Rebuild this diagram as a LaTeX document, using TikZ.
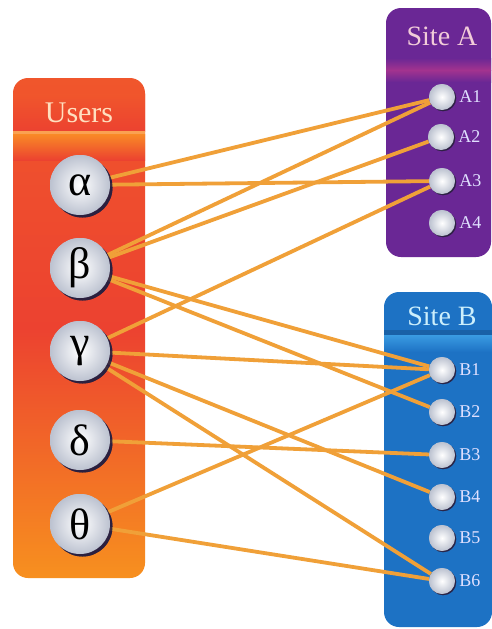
\documentclass[tikz,border=0pt]{standalone}
\usepackage{fontspec}
\setmainfont{Liberation Serif}
\usetikzlibrary{shadows}
\definecolor{usertop}{HTML}{F0562C}
\definecolor{usermid}{HTML}{EC4230}
\definecolor{userbot}{HTML}{F7901F}
\definecolor{userband}{HTML}{F98A26}
\definecolor{purp}{HTML}{6A2795}
\definecolor{purpband}{HTML}{A3338F}
\definecolor{blu}{HTML}{1D72C4}
\definecolor{bluband}{HTML}{3A9BE2}
\definecolor{wire}{HTML}{F0A038}
\definecolor{ballout}{HTML}{BCC2D0}
\definecolor{shadowc}{HTML}{2A2040}
\begin{document}
\begin{tikzpicture}[x=1pt,y=-1pt,
  userball/.style={circle, minimum size=60pt, inner sep=0pt, shading=radial,
    inner color=white, outer color=ballout,
    drop shadow={shadow xshift=2.5pt, shadow yshift=-2.5pt, fill=shadowc, opacity=0.9},
    font=\fontsize{44}{44}\selectfont},
  siteball/.style={circle, minimum size=26pt, inner sep=0pt, shading=radial,
    inner color=white, outer color=ballout,
    drop shadow={shadow xshift=1.2pt, shadow yshift=-1.2pt, fill=shadowc, opacity=0.75}},
  sitelab/.style={anchor=west, text=white!88!blue, font=\fontsize{18}{18}\selectfont, inner sep=0pt},
  title/.style={font=\fontsize{28}{28}\selectfont},
  wireline/.style={draw=wire, line width=3.8pt}
]
\useasboundingbox (0,0) rectangle (492,629);
\fill[white] (0,0) rectangle (492,629);

% Users box
\shade[rounded corners=15pt, top color=usertop, bottom color=userbot, middle color=usermid]
  (13,78) rectangle (145,578);
\shade[top color=usertop, bottom color=usermid] (13,94) rectangle (145,131);
\fill[userband!80!white] (13,131) rectangle (145,134);
\shade[top color=userband, bottom color=usermid] (13,134) rectangle (145,160);
\node[title, text=white!75!orange, font=\fontsize{30}{30}\selectfont] (usersT) at (79,113) {Users};

% Site A box
\fill[purp, rounded corners=15pt] (386,8) rectangle (491,257);
\shade[top color=purp, bottom color=purpband] (386,58) rectangle (491,70);
\shade[top color=purpband, bottom color=purp] (386,70) rectangle (491,82);
\node[title, text=white!80!purple] (siteAT) at (442,36) {Site A};

% Site B box
\fill[blu, rounded corners=15pt] (384,292) rectangle (492,627);
\fill[blu!85!black] (384,330) rectangle (492,335);
\shade[top color=bluband, bottom color=blu] (384,335) rectangle (492,352);
\node[title, text=white!80!cyan] (siteBT) at (442,316) {Site B};

% user nodes
\node[userball] (alpha) at (80,185) {α};
\node[userball] (beta)  at (80,268) {β};
\node[userball] (gamma) at (80,351) {γ};
\node[userball] (delta) at (80,440) {δ};
\node[userball] (theta) at (80,524) {θ};

% site nodes
\node[siteball] (A1) at (442,97) {};
\node[siteball] (A2) at (441,137) {};
\node[siteball] (A3) at (442,181) {};
\node[siteball] (A4) at (442,223) {};
\node[siteball] (B1) at (442,370) {};
\node[siteball] (B2) at (442,412) {};
\node[siteball] (B3) at (442,455) {};
\node[siteball] (B4) at (442,497) {};
\node[siteball] (B5) at (442,538) {};
\node[siteball] (B6) at (442,581) {};

\foreach \n in {A1,A2,A3,A4,B1,B2,B3,B4,B5,B6}
  \node[sitelab] (\n l) at ([xshift=4pt]\n.east) {\n};

% connectors
\foreach \u/\s in {alpha/A1, alpha/A3, beta/A1, beta/A2, gamma/A3,
                   beta/B1, beta/B2, gamma/B1, gamma/B4, gamma/B6,
                   delta/B3, theta/B1, theta/B6}
  \draw[wireline] (\u) -- (\s);

% redraw balls on top
\node[userball] at (alpha) {α};
\node[userball] at (beta) {β};
\node[userball] at (gamma) {γ};
\node[userball] at (delta) {δ};
\node[userball] at (theta) {θ};
\foreach \n in {A1,A2,A3,A4,B1,B2,B3,B4,B5,B6}
  \node[siteball] at (\n) {};
\end{tikzpicture}
\end{document}
